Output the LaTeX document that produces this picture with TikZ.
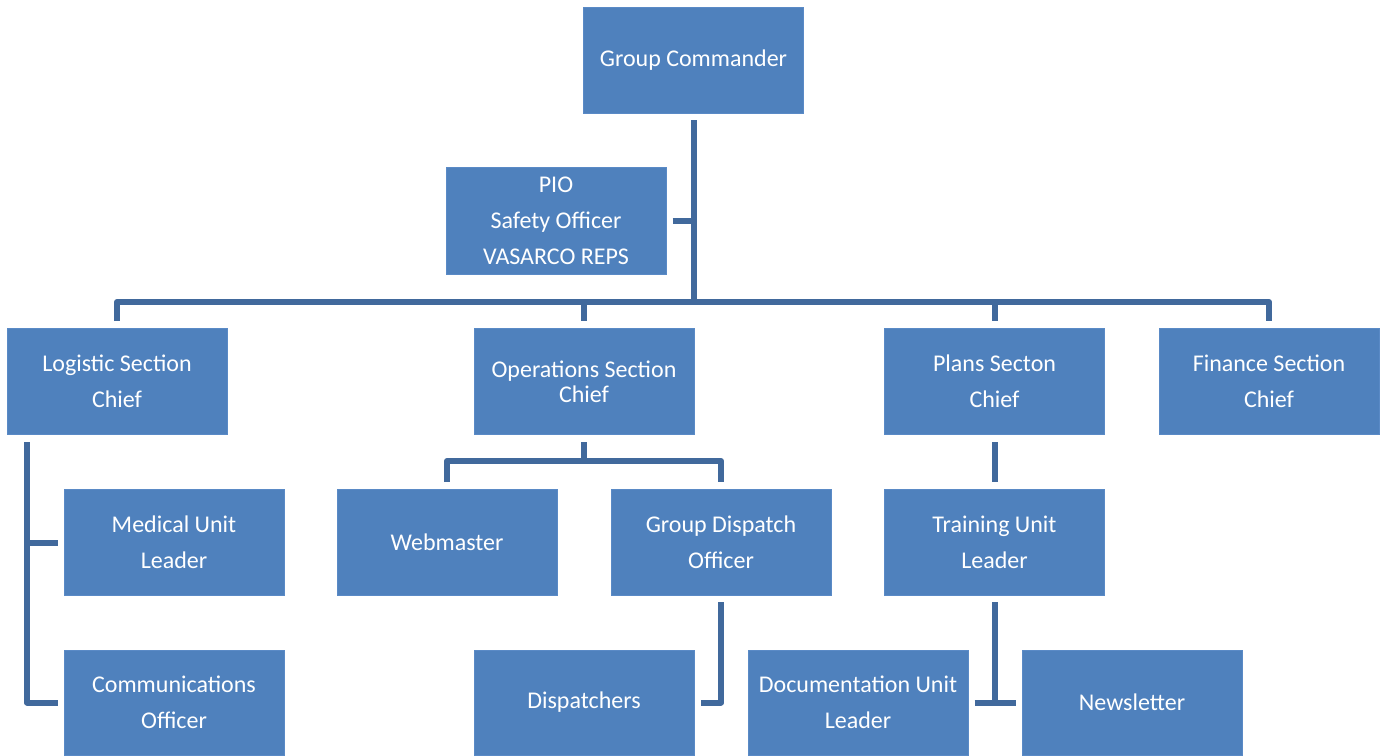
\documentclass[tikz,border=0pt]{standalone}
\usepackage{fontspec}
\setmainfont{Carlito}
\definecolor{boxblue}{HTML}{4F81BD}
\definecolor{boxedge}{HTML}{5A8AC6}
\definecolor{linkblue}{HTML}{41699C}
\begin{document}
\begin{tikzpicture}[x=1pt,y=-1pt,
  box/.style={fill=boxblue,draw=boxedge,line width=1pt,minimum width=220pt,minimum height=106pt,
    text=white,align=center,inner sep=0pt,font=\fontsize{24}{36}\selectfont},
  conn/.style={draw=linkblue,line width=6pt,line cap=butt,line join=round}]
\useasboundingbox (0,0) rectangle (1380,755);
\node[box] (gc) at (693.5,60.5) {Group Commander};
\node[box,minimum height=107pt] (pio) at (556,221) {PIO\\Safety Officer\\VASARCO REPS};
\node[box] (log) at (117,381.5) {Logistic Section\\Chief};
\node[box,font=\fontsize{24}{25}\selectfont] (ops) at (584,381.5) {Operations Section\\Chief};
\node[box] (plans) at (994.5,381.5) {Plans Secton\\Chief};
\node[box] (fin) at (1269,381.5) {Finance Section\\Chief};
\node[box] (med) at (174,542.5) {Medical Unit\\Leader};
\node[box] (web) at (447,542.5) {Webmaster};
\node[box] (gdo) at (721,542.5) {Group Dispatch\\Officer};
\node[box] (tul) at (994.5,542.5) {Training Unit\\Leader};
\node[box,minimum height=105pt] (com) at (174,702.5) {Communications\\Officer};
\node[box,minimum height=105pt] (dis) at (584,702.5) {Dispatchers};
\node[box,minimum height=105pt] (doc) at (858,702.5) {Documentation Unit\\Leader};
\node[box,minimum height=105pt] (news) at (1132,702.5) {Newsletter};
% top level
\coordinate (bus) at (693.5,302);
\draw[conn] ([yshift=-6]gc.south) -- (gc.south |- bus);
\draw[conn] ([xshift=6]pio.east) -- (gc.south |- pio.east);
\draw[conn] ([yshift=7]log.north) -- (log.north |- bus) -- (fin.north |- bus) -- ([yshift=7]fin.north);
\draw[conn] (ops.north |- bus) -- ([yshift=7]ops.north);
\draw[conn] (plans.north |- bus) -- ([yshift=7]plans.north);
% logistic
\coordinate (lx) at (27,0);
\coordinate (lbot) at ([yshift=-7]log.south);
\draw[conn] (lx |- lbot) -- (lx |- com.west) -- ([xshift=-6]com.west);
\draw[conn] (lx |- med.west) -- ([xshift=-6]med.west);
% operations
\coordinate (obus) at (0,461);
\draw[conn] ([yshift=-7]ops.south) -- (ops.south |- obus);
\draw[conn] ([yshift=7]web.north) -- (web.north |- obus) -- (gdo.north |- obus) -- ([yshift=7]gdo.north);
% dispatch
\draw[conn] ([yshift=-6]gdo.south) -- (gdo.south |- dis.east) -- ([xshift=6]dis.east);
% plans
\draw[conn] ([yshift=-7]plans.south) -- ([yshift=7]tul.north);
\draw[conn] ([yshift=-6]tul.south) -- (tul.south |- doc.east);
\draw[conn] ([xshift=6]doc.east) -- ([xshift=-6]news.west);
\end{tikzpicture}
\end{document}
